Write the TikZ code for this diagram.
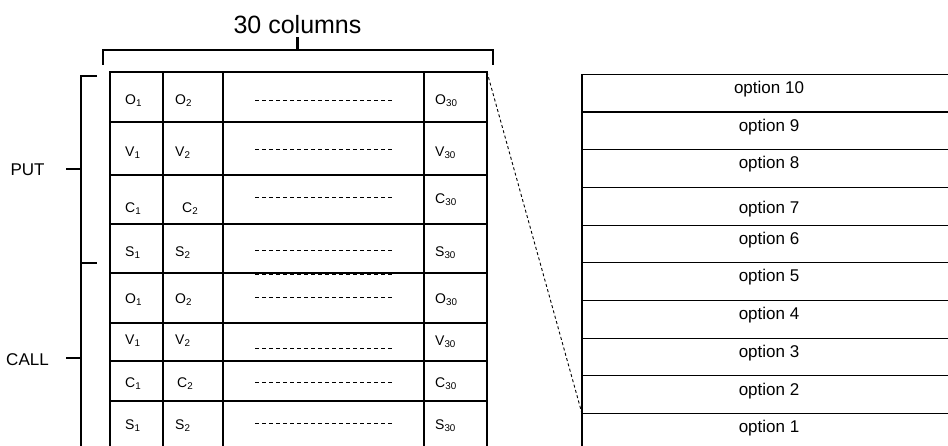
\documentclass[tikz,border=0pt]{standalone}
\usepackage{fontspec}
\setmainfont{Liberation Sans}
\usetikzlibrary{positioning}

\begin{document}
\begin{tikzpicture}[
        x=1pt, y=-1pt,
        cell/.style={
            draw,
            line width=1.1pt,
            outer sep=0pt,
            inner sep=0pt,
            anchor=north west
        },
        lbl/.style={inner sep=0pt, font=\fontsize{14}{16}\selectfont},
        optbox/.style={
            cell,
            minimum width=374pt,
            minimum height=37.7pt,
            text height=16pt,
            font=\fontsize{17}{20}\selectfont
        },
        side/.style={font=\fontsize{17}{20}\selectfont},
        brace/.style={line width=2.3pt},
        dashrow/.style={dash pattern=on 4pt off 3pt, line width=0.9pt},
        zoomline/.style={dash pattern=on 3pt off 2.5pt, line width=0.9pt}
    ]
    \useasboundingbox (0,0) rectangle (948,446);

    % left table, one row per entry
    \foreach \r/\t/\h/\c/\d/\s/\e/\k in {
            1/72/50pt/O/28pt/-4pt/-4pt/12pt,
            2/122/53pt/V/27pt/-4.5pt/-4.5pt/12pt,
            3/175/49pt/C/22pt/-9pt/-0.5pt/19pt,
            4/224/49pt/S/26pt/-4.5pt/-4.5pt/12pt,
            5/273/50pt/O/24pt/-2pt/-2pt/12pt,
            6/323/38pt/V/25pt/1.5pt/0pt/12pt,
            7/361/40pt/C/21pt/-3pt/-3pt/14pt,
            8/401/49pt/S/22pt/0pt/0pt/12pt}{
        \node[cell, minimum width=53pt, minimum height=\h] (a\r) at (110,\t) {};
        \node[cell, minimum width=60pt, minimum height=\h, right=0pt of a\r] (b\r) {};
        \node[cell, minimum width=201pt, minimum height=\h, right=0pt of b\r] (c\r) {};
        \node[cell, minimum width=63pt, minimum height=\h, right=0pt of c\r] (d\r) {};
        \node[lbl, right=15pt of a\r.west, yshift=\s] (la\r) {\c\textsubscript{1}};
        \node[lbl, right=\k of b\r.west, yshift=\s] (lb\r) {\c\textsubscript{2}};
        \node[lbl, right=11pt of d\r.west, yshift=\e] (ld\r) {\c\textsubscript{30}};
        \draw[dashrow] ([xshift=32pt, yshift=-\d]c\r.north west) -- ([xshift=-31pt, yshift=-\d]c\r.north east);
    }
    \draw[dashrow] ([xshift=32pt, yshift=1pt]c1.south west) -- ([xshift=-31pt, yshift=1pt]c1.south east);
    \draw[dashrow] ([xshift=32pt, yshift=-1pt]c4.south west) -- ([xshift=-31pt, yshift=-1pt]c4.south east);

    % right table
    \foreach \n/\q in {10/15.4pt, 9/15.4pt, 8/15.4pt, 7/2.4pt, 6/15.4pt,
            5/15.4pt, 4/15.4pt, 3/15.4pt, 2/15.4pt, 1/15.4pt}{
        \node[optbox, text depth=\q] (opt\n) at (582,{74.3+(10-\n)*37.7}) {option \n};
    }

    \draw[zoomline] (d1.north east) -- (opt1.north west);

    % brackets
    \node[font=\fontsize{25}{30}\selectfont] (cols) at (297.5,24.5) {30 columns};
    \draw[brace] (103,65) -- (103,50) -- (493,50) -- (493,65);
    \draw[brace] (297.5,50) -- (297.5,37);

    \node[side] (put) at (27.5,170) {PUT};
    \node[side] (call) at (27.5,360) {CALL};
    \draw[brace] (97,76) -- (81,76) -- (81,452);
    \draw[brace] (81,263) -- (97,263);
    \draw[brace] (66,169) -- (81,169);
    \draw[brace] (66,358) -- (81,358);

\end{tikzpicture}
\end{document}
